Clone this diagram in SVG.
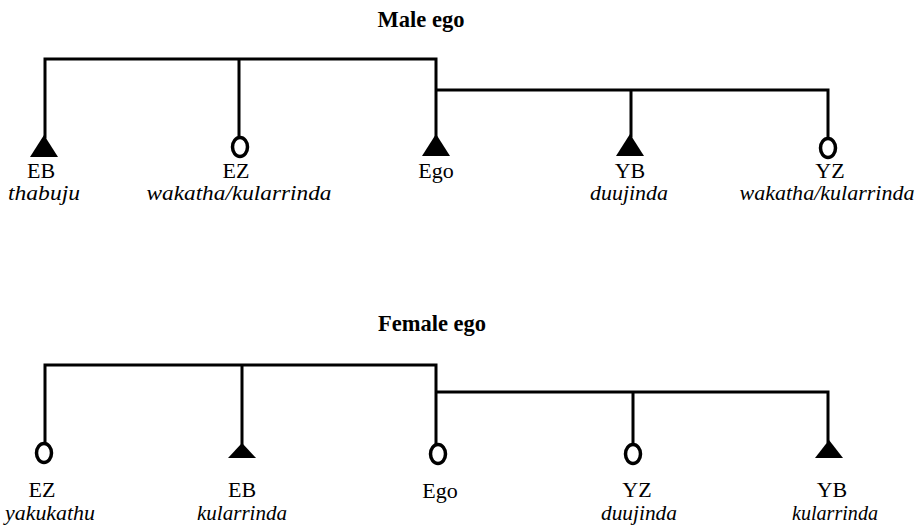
<svg xmlns="http://www.w3.org/2000/svg" width="917" height="529" viewBox="0 0 917 529">
  <style>
    .line { fill: none; stroke: #000; stroke-width: 3; stroke-linecap: square; }
    .male { fill: #000; }
    .female { fill: #fff; stroke: #000; stroke-width: 3.5; }
    text { font-family: 'Liberation Serif', 'DejaVu Serif', serif; fill: #000; text-anchor: middle; }
    .title { font-weight: bold; font-size: 22.5px; }
    .code { font-size: 22px; }
    .term { font-style: italic; font-size: 21px; }
  </style>
  <rect width="917" height="529" fill="#fff"/>

  <!-- Male ego -->
  <text class="title" x="421" y="27">Male ego</text>
  <g id="male-connectors">
    <path class="line" d="M45 137 V59 H436 V136 M239 59 V138 M436 90 H828 V138 M631 90 V136"/>
  </g>
  <g id="m-eb">
    <polygon class="male" points="44,135 30,157 58,157"/>
    <text class="code" x="41" y="178">EB</text>
    <text class="term" x="44" y="200" textLength="72" lengthAdjust="spacingAndGlyphs">thabuju</text>
  </g>
  <g id="m-ez">
    <ellipse class="female" cx="240" cy="147" rx="7.5" ry="9.5"/>
    <text class="code" x="236" y="178">EZ</text>
    <text class="term" x="239" y="200" textLength="185" lengthAdjust="spacingAndGlyphs">wakatha/kularrinda</text>
  </g>
  <g id="m-ego">
    <polygon class="male" points="436,134 422,156 450,156"/>
    <text class="code" x="436" y="178">Ego</text>
  </g>
  <g id="m-yb">
    <polygon class="male" points="630,134 616,156 644,156"/>
    <text class="code" x="630" y="178">YB</text>
    <text class="term" x="629" y="200" textLength="78" lengthAdjust="spacingAndGlyphs">duujinda</text>
  </g>
  <g id="m-yz">
    <ellipse class="female" cx="828" cy="148" rx="7.5" ry="9.5"/>
    <text class="code" x="830" y="178">YZ</text>
    <text class="term" x="827" y="200" textLength="175" lengthAdjust="spacingAndGlyphs">wakatha/kularrinda</text>
  </g>

  <!-- Female ego -->
  <text class="title" x="432" y="331">Female ego</text>
  <g id="female-connectors">
    <path class="line" d="M45 442 V365 H436 V443 M242 365 V444 M436 392 H828 V442 M633 392 V443"/>
  </g>
  <g id="f-ez">
    <ellipse class="female" cx="44" cy="453" rx="7.5" ry="9.5"/>
    <text class="code" x="42" y="497">EZ</text>
    <text class="term" x="50" y="520" textLength="90" lengthAdjust="spacingAndGlyphs">yakukathu</text>
  </g>
  <g id="f-eb">
    <polygon class="male" points="242,443 228,458 256,458"/>
    <text class="code" x="242" y="497">EB</text>
    <text class="term" x="242" y="520" textLength="90" lengthAdjust="spacingAndGlyphs">kularrinda</text>
  </g>
  <g id="f-ego">
    <ellipse class="female" cx="438" cy="454" rx="7.5" ry="9.5"/>
    <text class="code" x="440" y="498">Ego</text>
  </g>
  <g id="f-yz">
    <ellipse class="female" cx="633" cy="454" rx="7.5" ry="9.5"/>
    <text class="code" x="637" y="497">YZ</text>
    <text class="term" x="639" y="520" textLength="76" lengthAdjust="spacingAndGlyphs">duujinda</text>
  </g>
  <g id="f-yb">
    <polygon class="male" points="829,440 815,458 843,458"/>
    <text class="code" x="832" y="497">YB</text>
    <text class="term" x="835" y="520" textLength="86" lengthAdjust="spacingAndGlyphs">kularrinda</text>
  </g>
</svg>
